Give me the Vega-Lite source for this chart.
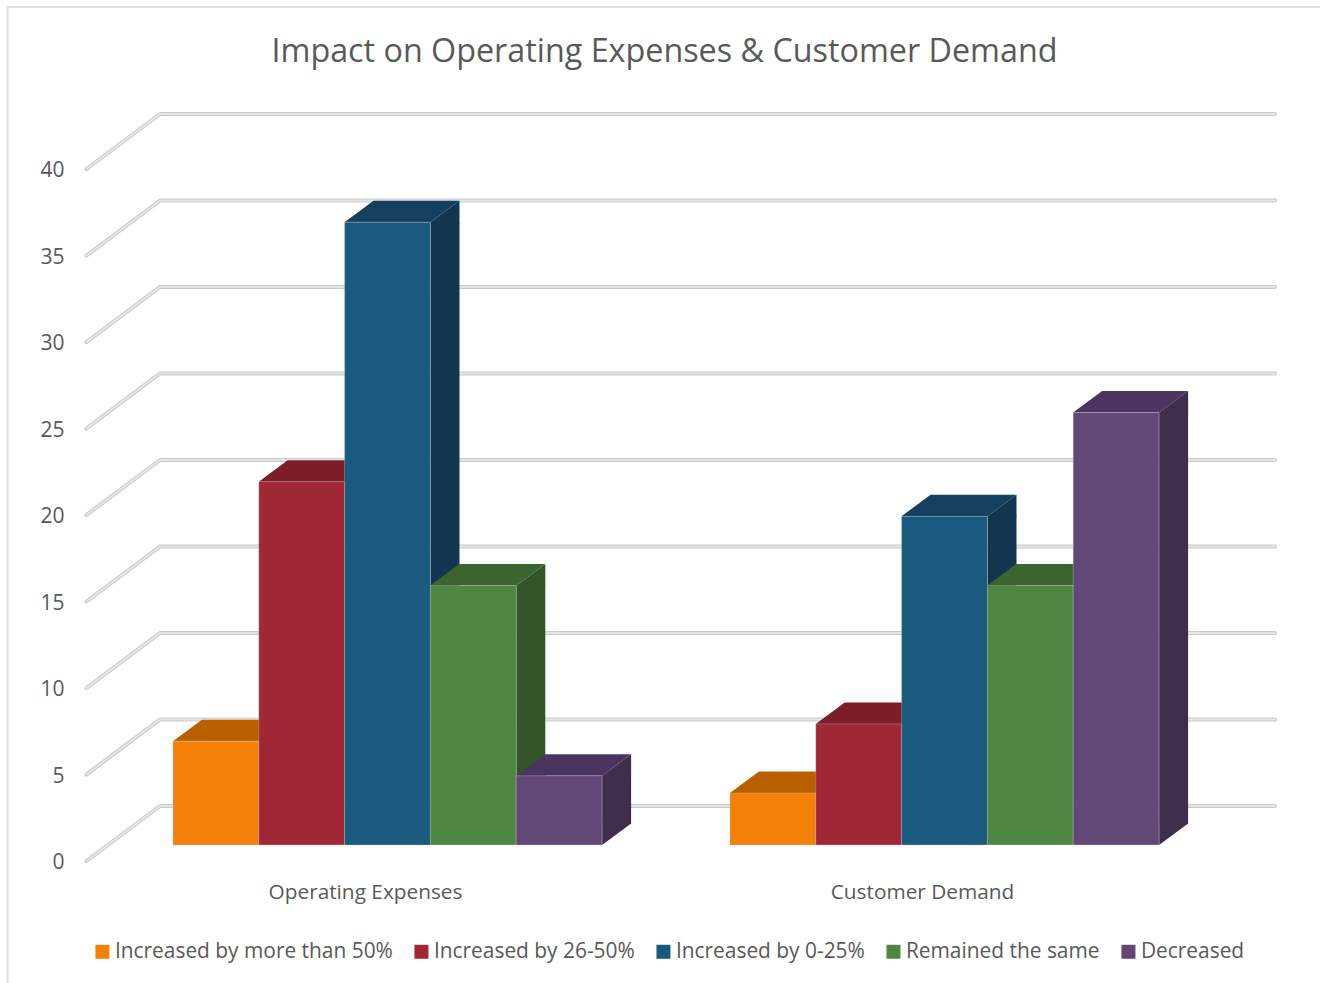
{
"$schema":"https://vega.github.io/schema/vega-lite/v6.json",
"autosize":{"type":"none"},
"padding":{"left":7,"top":7,"right":0,"bottom":0},
"width":1313,"height":976,
"background":"white",
"config":{"view":{"stroke":null},"font":"Open Sans"},
"title":{"text":"Impact on Operating Expenses & Customer Demand","anchor":"middle","frame":"group","offset":-65,"dx":1,"fontSize":32.3,"fontWeight":"normal","color":"#595959","font":"Open Sans"},
"datasets":{"bars":[
{"category":"Operating Expenses","series":"Increased by more than 50%","value":6},
{"category":"Operating Expenses","series":"Increased by 26-50%","value":21},
{"category":"Operating Expenses","series":"Increased by 0-25%","value":36},
{"category":"Operating Expenses","series":"Remained the same","value":15},
{"category":"Operating Expenses","series":"Decreased","value":4},
{"category":"Customer Demand","series":"Increased by more than 50%","value":3},
{"category":"Customer Demand","series":"Increased by 26-50%","value":7},
{"category":"Customer Demand","series":"Increased by 0-25%","value":19},
{"category":"Customer Demand","series":"Remained the same","value":15},
{"category":"Customer Demand","series":"Decreased","value":25}
],"ticks":[{"tick":0},{"tick":5},{"tick":10},{"tick":15},{"tick":20},{"tick":25},{"tick":30},{"tick":35},{"tick":40}]},
"data":{"name":"bars"},
"encoding":{
 "x":{"field":"category","type":"nominal","title":null,"scale":{"domain":["Operating Expenses","Customer Demand"],"range":[102,1216],"paddingInner":0,"paddingOuter":0},"axis":{"orient":"bottom","offset":-101,"domain":false,"ticks":false,"labelAngle":0,"labelFontSize":20.8,"labelLimit":400,"labelColor":"#595959","labelFont":"Open Sans","labelOffset":-22,"labelPadding":0,"title":null,"grid":false}},
 "y":{"field":"value","type":"quantitative","title":null,"scale":{"domain":[-7.11,49.306],"nice":false,"zero":false},"axis":{"orient":"left","values":[0,5,10,15,20,25,30,35,40],"offset":-62,"domain":false,"ticks":false,"labelFontSize":21,"labelColor":"#595959","labelFont":"Open Sans","labelPadding":5,"labelOffset":3,"title":null,"grid":false}}
},
"resolve":{"scale":{"color":"independent"},"legend":{"color":"independent"}},
"layer":[
{"data":{"values":[{"tick":0}]},
 "mark":{"type":"point","shape":"M-380,123L-380,-853L932.5,-853","size":4,"filled":false,"stroke":"#e0e0e0","strokeWidth":2,"opacity":1,"fill":null},
 "encoding":{"x":{"datum":"Operating Expenses","type":"nominal"},
 "y":{"field":"tick","type":"quantitative"}}},
{"data":{"name":"ticks"},
 "mark":{"type":"point","shape":"M-301,1L-227.5,-54L887.5,-54","size":4,"filled":false,"stroke":"#c9c9c9","strokeWidth":4,"strokeCap":"round","strokeJoin":"round","opacity":1,"fill":null},
 "encoding":{"x":{"datum":"Operating Expenses","type":"nominal"},
 "y":{"field":"tick","type":"quantitative"}}},
{"data":{"name":"ticks"},
 "mark":{"type":"point","shape":"M-301,1L-227.5,-54L887.5,-54","size":4,"filled":false,"stroke":"#e6e6e6","strokeWidth":2,"strokeCap":"round","strokeJoin":"round","opacity":1,"fill":null},
 "encoding":{"x":{"datum":"Operating Expenses","type":"nominal"},
 "y":{"field":"tick","type":"quantitative"}}},
{"transform":[{"filter":{"field":"series","equal":"Increased by more than 50%"}}],
 "mark":{"type":"rule","strokeWidth":29,"strokeCap":"butt","xOffset":-114.1,"yOffset":-15,"y2Offset":-36.5,"color":"#a85500"},
 "encoding":{"y2":{"datum":0}}},
{"transform":[{"filter":{"field":"series","equal":"Increased by 26-50%"}}],
 "mark":{"type":"rule","strokeWidth":29,"strokeCap":"butt","xOffset":-28.3,"yOffset":-15,"y2Offset":-36.5,"color":"#6e1a25"},
 "encoding":{"y2":{"datum":0}}},
{"transform":[{"filter":{"field":"series","equal":"Increased by 0-25%"}}],
 "mark":{"type":"rule","strokeWidth":29,"strokeCap":"butt","xOffset":57.5,"yOffset":-15,"y2Offset":-36.5,"color":"#12364f"},
 "encoding":{"y2":{"datum":0}}},
{"transform":[{"filter":{"field":"series","equal":"Remained the same"}}],
 "mark":{"type":"rule","strokeWidth":29,"strokeCap":"butt","xOffset":143.3,"yOffset":-15,"y2Offset":-36.5,"color":"#335429"},
 "encoding":{"y2":{"datum":0}}},
{"transform":[{"filter":{"field":"series","equal":"Decreased"}}],
 "mark":{"type":"rule","strokeWidth":29,"strokeCap":"butt","xOffset":229.1,"yOffset":-15,"y2Offset":-36.5,"color":"#3e2d4b"},
 "encoding":{"y2":{"datum":0}}},
{"mark":{"type":"point","shape":"M43,-15L72,-36.5L72,-14L43,-14Z","size":4,"filled":true,"opacity":1},
 "encoding":{
 "xOffset":{"field":"series","type":"nominal","scale":{"domain":["Increased by more than 50%","Increased by 26-50%","Increased by 0-25%","Remained the same","Decreased"],"paddingInner":0,"paddingOuter":0.746}},
 "color":{"field":"series","type":"nominal","legend":null,"scale":{"domain":["Increased by more than 50%","Increased by 26-50%","Increased by 0-25%","Remained the same","Decreased"],"range":["#a85500","#6e1a25","#12364f","#335429","#3e2d4b"]}}}},
{"mark":{"type":"point","shape":"M43,-15L72,-36.5L72,-37.5L43,-37.5Z","size":4,"filled":true,"opacity":1},
 "encoding":{
 "xOffset":{"field":"series","type":"nominal"},
 "y":{"datum":0,"type":"quantitative"},
 "color":{"field":"series","type":"nominal","legend":null,"scale":{"domain":["Increased by more than 50%","Increased by 26-50%","Increased by 0-25%","Remained the same","Decreased"],"range":["#a85500","#6e1a25","#12364f","#335429","#3e2d4b"]}}}},
{"mark":{"type":"point","shape":"M-43,-15L43,-15L72,-36.5L-14,-36.5Z","size":4,"filled":true,"opacity":1},
 "encoding":{
 "xOffset":{"field":"series","type":"nominal"},
 "color":{"field":"series","type":"nominal","legend":null,"scale":{"domain":["Increased by more than 50%","Increased by 26-50%","Increased by 0-25%","Remained the same","Decreased"],"range":["#b86000","#7d1d29","#143f5e","#3a6531","#4a3560"]}}}},
{"mark":{"type":"bar","yOffset":-15,"y2Offset":-15,"stroke":"#c8c8c8","strokeWidth":1,"strokeOpacity":0.35},
 "encoding":{
 "xOffset":{"field":"series","type":"nominal"},
 "color":{"field":"series","type":"nominal","title":null,"scale":{"domain":["Increased by more than 50%","Increased by 26-50%","Increased by 0-25%","Remained the same","Decreased"],"range":["#f4800a","#9f2736","#1a5a7e","#4f8641","#614877"]},
  "legend":{"orient":"none","legendX":85,"legendY":934,"direction":"horizontal","columns":5,"symbolType":"square","symbolSize":196,"symbolStrokeWidth":0,"labelFontSize":20.9,"labelColor":"#595959","labelFont":"Open Sans","labelLimit":400,"columnPadding":18,"labelOffset":2,"title":null}}}}
]}
